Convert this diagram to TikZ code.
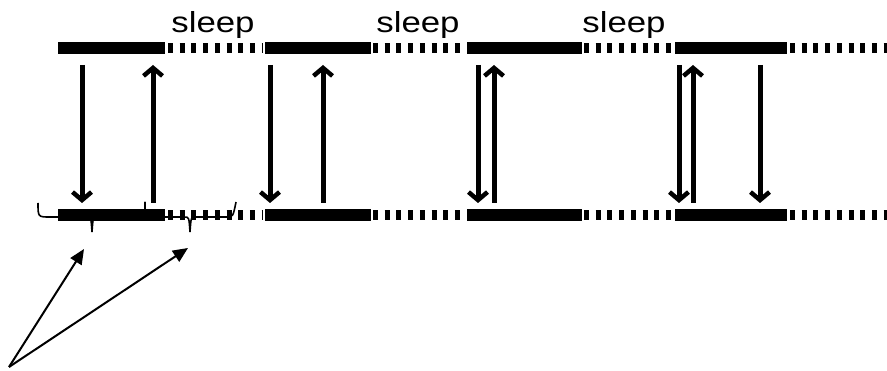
\documentclass[tikz,border=0pt]{standalone}
\usepackage{fontspec}
\setmainfont{Liberation Sans}
\usetikzlibrary{arrows.meta}

\tikzset{
  awake/.style={line width=12pt},
  asleep/.style={line width=10pt, dash pattern=on 5pt off 6.7pt},
  msg/.style={line width=5pt, -{Straight Barb[length=8pt,width=19pt,line width=4.5pt]}},
  lbl/.style={font=\fontsize{29}{30}\selectfont, xscale=1.2, inner sep=0pt, anchor=base},
  brace/.style={line width=1.6pt},
  pointer/.style={line width=2pt, -{Triangle[length=15pt,width=13pt]}}
}

\begin{document}
\begin{tikzpicture}[x=1pt,y=-1pt]
\useasboundingbox (0,0) rectangle (887,371);

% the two radio time lines: on (solid) and sleep (dashed)
\foreach \y in {48,215} {
  \foreach \a/\b in {58/165,265/371,467/582,675/787}
    \draw[awake] (\a,\y) -- (\b,\y);
  \foreach \a/\b in {168/262,373/464,584/672,790/887}
    \draw[asleep] (\a,\y) -- (\b,\y);
}

\node[lbl] (sleep1) at (213,33) {sleep};
\node[lbl] (sleep2) at (418,33) {sleep};
\node[lbl] (sleep3) at (624,33) {sleep};

% messages between the two nodes
\foreach \x [count=\i] in {82,270,478,679,760} {
  \coordinate (dn\i a) at (\x,65);
  \coordinate (dn\i b) at (\x,203);
  \draw[msg] (dn\i a) -- (dn\i b);
}
\foreach \x [count=\i] in {153,323,494,693} {
  \coordinate (up\i a) at (\x,203);
  \coordinate (up\i b) at (\x,65);
  \draw[msg] (up\i a) -- (up\i b);
}

% braces under the first period
\draw[brace] (38,203) .. controls (38,217) .. (50,217) -- (86,217)
  .. controls (91,217) .. (92,232) .. controls (93,217) .. (98,217)
  -- (139,217) .. controls (145,217) .. (145,202);
\draw[brace] (145,202) .. controls (145,217) .. (151,217) -- (184,217)
  .. controls (189,217) .. (190,232) .. controls (191,217) .. (196,217)
  -- (226,217) .. controls (233,217) .. (236,202);
\coordinate (onpart) at (84,249);
\coordinate (offpart) at (188,248);

\coordinate (origin) at (9,367);
\draw[pointer] (origin) -- (onpart);
\draw[pointer] (origin) -- (offpart);

\end{tikzpicture}
\end{document}
